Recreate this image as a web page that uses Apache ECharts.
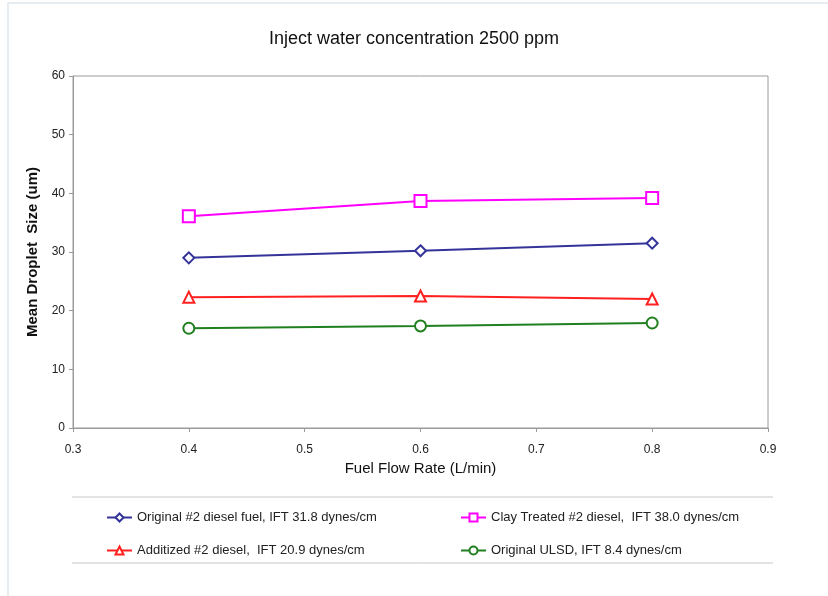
<!DOCTYPE html>
<html>
<head>
<meta charset="utf-8">
<script src="https://cdn.jsdelivr.net/npm/echarts@6/dist/echarts.min.js"></script>
<style>
  html, body { margin: 0; padding: 0; background: #fff; }
  #main { width: 828px; height: 596px; }
</style>
</head>
<body>
<div id="main"></div>
<script>
// flow rates (L/min)
let flowRates = [0.4, 0.6, 0.8];

let originalDiesel = [29.0, 30.2, 31.5];
let clayTreated = [36.1, 38.7, 39.2];
let additized = [22.3, 22.5, 22.0];
let originalUlsd = [17.0, 17.4, 17.9];

let seriesNames = [
    'Original #2 diesel fuel, IFT 31.8 dynes/cm',
    'Clay Treated #2 diesel,  IFT 38.0 dynes/cm',
    'Additized #2 diesel,  IFT 20.9 dynes/cm',
    'Original ULSD, IFT 8.4 dynes/cm'
];

let font = 'Liberation Sans';
let chart = echarts.init(document.getElementById('main'));

function pairs(vals) {
    return flowRates.map(function(x, i) { return [x, vals[i]]; });
}

function mkSeries(name, vals, color, symbol, size) {
    return {
        name: name,
        type: 'line',
        data: pairs(vals),
        symbol: symbol,
        symbolSize: size,
        lineStyle: { color: color, width: 2 },
        itemStyle: { color: color, borderWidth: 1.5 },
        animation: false
    };
}

// one legend per item so columns line up like the excel box
function mkLegend(name, left, top) {
    return {
        data: [name],
        left: left,
        top: top,
        itemWidth: 25,
        itemHeight: 10,
        itemGap: 0,
        textStyle: { fontFamily: font, fontSize: 13, color: '#222' }
    };
}

option = {
    backgroundColor: '#fff',
    title: {
        text: 'Inject water concentration 2500 ppm',
        left: 'center',
        top: 25,
        textStyle: { fontFamily: font, fontSize: 18, fontWeight: 'normal', color: '#111' }
    },
    grid: {
        left: 73,
        right: 60,
        top: 76,
        bottom: 168,
        show: true,
        borderColor: '#9a9a9a',
        borderWidth: 1
    },
    legend: [
        mkLegend(seriesNames[0], 101, 506),
        mkLegend(seriesNames[1], 455, 506),
        mkLegend(seriesNames[2], 101, 539),
        mkLegend(seriesNames[3], 455, 539)
    ],
    xAxis: {
        type: 'value',
        min: 0.3,
        max: 0.9,
        interval: 0.1,
        name: 'Fuel Flow Rate (L/min)',
        nameLocation: 'middle',
        nameGap: 33,
        nameTextStyle: { fontFamily: font, fontSize: 15, color: '#111' },
        axisLine: { lineStyle: { color: '#9a9a9a' } },
        axisTick: { show: true, length: 4, lineStyle: { color: '#9a9a9a' } },
        axisLabel: {
            fontFamily: font, fontSize: 12, color: '#222', margin: 16,
            formatter: function(v) { return v.toFixed(1); }
        },
        splitLine: { show: false }
    },
    yAxis: {
        type: 'value',
        min: 0,
        max: 60,
        interval: 10,
        name: 'Mean Droplet  Size (um)',
        nameLocation: 'middle',
        nameGap: 28,
        nameTextStyle: { fontFamily: font, fontSize: 15, color: '#111', fontWeight: 'bold' },
        axisLine: { show: true, lineStyle: { color: '#9a9a9a' } },
        axisTick: { show: true, length: 4, lineStyle: { color: '#9a9a9a' } },
        axisLabel: { fontFamily: font, fontSize: 12, color: '#222', margin: 8 },
        splitLine: { show: false }
    },
    graphic: [
        { type: 'rect', shape: { x: 8, y: 3, width: 830, height: 600 },
          style: { fill: 'none', stroke: '#dde6ee', lineWidth: 1.5 } },
        { type: 'line', shape: { x1: 72, y1: 497, x2: 773, y2: 497 },
          style: { stroke: '#c8c8c8', lineWidth: 1 } },
        { type: 'line', shape: { x1: 72, y1: 563, x2: 773, y2: 563 },
          style: { stroke: '#c8c8c8', lineWidth: 1 } }
    ],
    series: [
        mkSeries(seriesNames[0], originalDiesel, '#333399', 'emptyDiamond', 11),
        mkSeries(seriesNames[1], clayTreated, '#ff00ff', 'emptyRect', 12),
        mkSeries(seriesNames[2], additized, '#ff2020', 'emptyTriangle', 11),
        mkSeries(seriesNames[3], originalUlsd, '#208020', 'emptyCircle', 11)
    ]
};

chart.setOption(option);
</script>
</body>
</html>
